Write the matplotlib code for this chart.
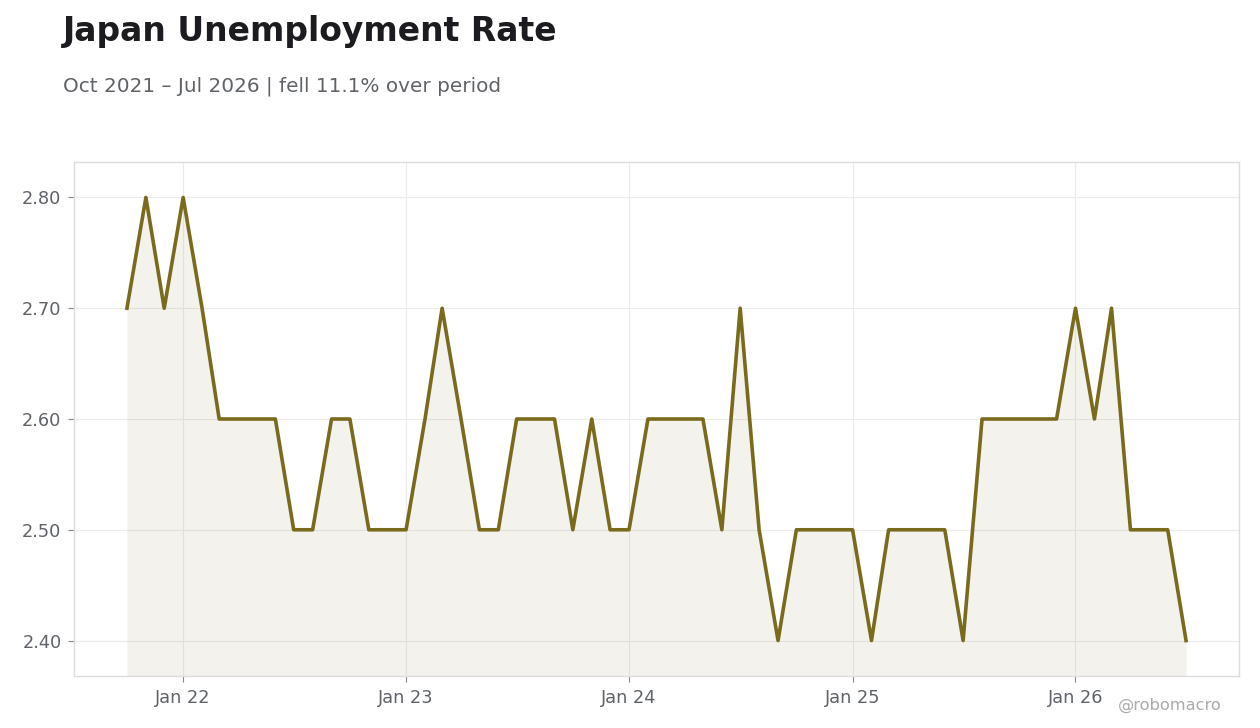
import matplotlib
matplotlib.use("Agg")
import matplotlib.pyplot as plt
import matplotlib.dates as mdates
import pandas as pd
import numpy as np

plt.rcParams['font.family'] = ['DejaVu Sans']

start_month = "2021-10-01"
values = [2.7, 2.8, 2.7, 2.8, 2.7, 2.6, 2.6, 2.6, 2.6, 2.5, 2.5, 2.6,
          2.6, 2.5, 2.5, 2.5, 2.6, 2.7, 2.6, 2.5, 2.5, 2.6, 2.6, 2.6,
          2.5, 2.6, 2.5, 2.5, 2.6, 2.6, 2.6, 2.6, 2.5, 2.7, 2.5, 2.4,
          2.5, 2.5, 2.5, 2.5, 2.4, 2.5, 2.5, 2.5, 2.5, 2.4, 2.6, 2.6,
          2.6, 2.6, 2.6, 2.7, 2.6, 2.7, 2.5, 2.5, 2.5, 2.4]
dates = pd.date_range(start_month, periods=len(values), freq="MS")

title = "Japan Unemployment Rate"
subtitle = "Oct 2021 \u2013 Jul 2026 | fell 11.1% over period"
watermark = "@robomacro"

line_color = "#7a6a1c"
fig = plt.figure(figsize=(12.6, 7.28), dpi=100)
ax = fig.add_axes([74/1260, 1-676/728, (1239-74)/1260, (676-162)/728])

ax.plot(dates, values, color=line_color, lw=2.6, zorder=3)
ax.margins(x=0.05, y=0.08)
ax.autoscale_view()
ylo, yhi = ax.get_ylim()
ax.fill_between(dates, values, ylo, color="#8a8050", alpha=0.1, lw=0, zorder=2)
ax.set_ylim(ylo, yhi)

ax.xaxis.set_major_locator(mdates.YearLocator(month=1, day=1))
ax.xaxis.set_major_formatter(mdates.DateFormatter("%b %y"))
ax.set_yticks([2.4, 2.5, 2.6, 2.7, 2.8])
ax.yaxis.set_major_formatter(matplotlib.ticker.FormatStrFormatter("%.2f"))

ax.grid(True, color="#ebebeb", lw=0.8, zorder=0)
for s in ax.spines.values():
    s.set_color("#dddddd")
    s.set_linewidth(1.0)
ax.tick_params(axis="both", colors="#5f6368", labelsize=12.8, length=4, width=0.8, color="#888888")
ax.tick_params(axis="x", pad=5.5)
ax.tick_params(axis="y", pad=5)

fig.text(63/1260, 1-31/728, title, fontsize=23.8, fontweight="bold", color="#1c1c20", va="center", ha="left")
fig.text(63/1260, 1-86/728, subtitle, fontsize=14.4, color="#5f6368", va="center", ha="left")
fig.text(1222/1260, 1-705/728, watermark, fontsize=11.7, color="#aaaaaa", va="center", ha="right")

fig.savefig("out.png", dpi=100, facecolor="white")
